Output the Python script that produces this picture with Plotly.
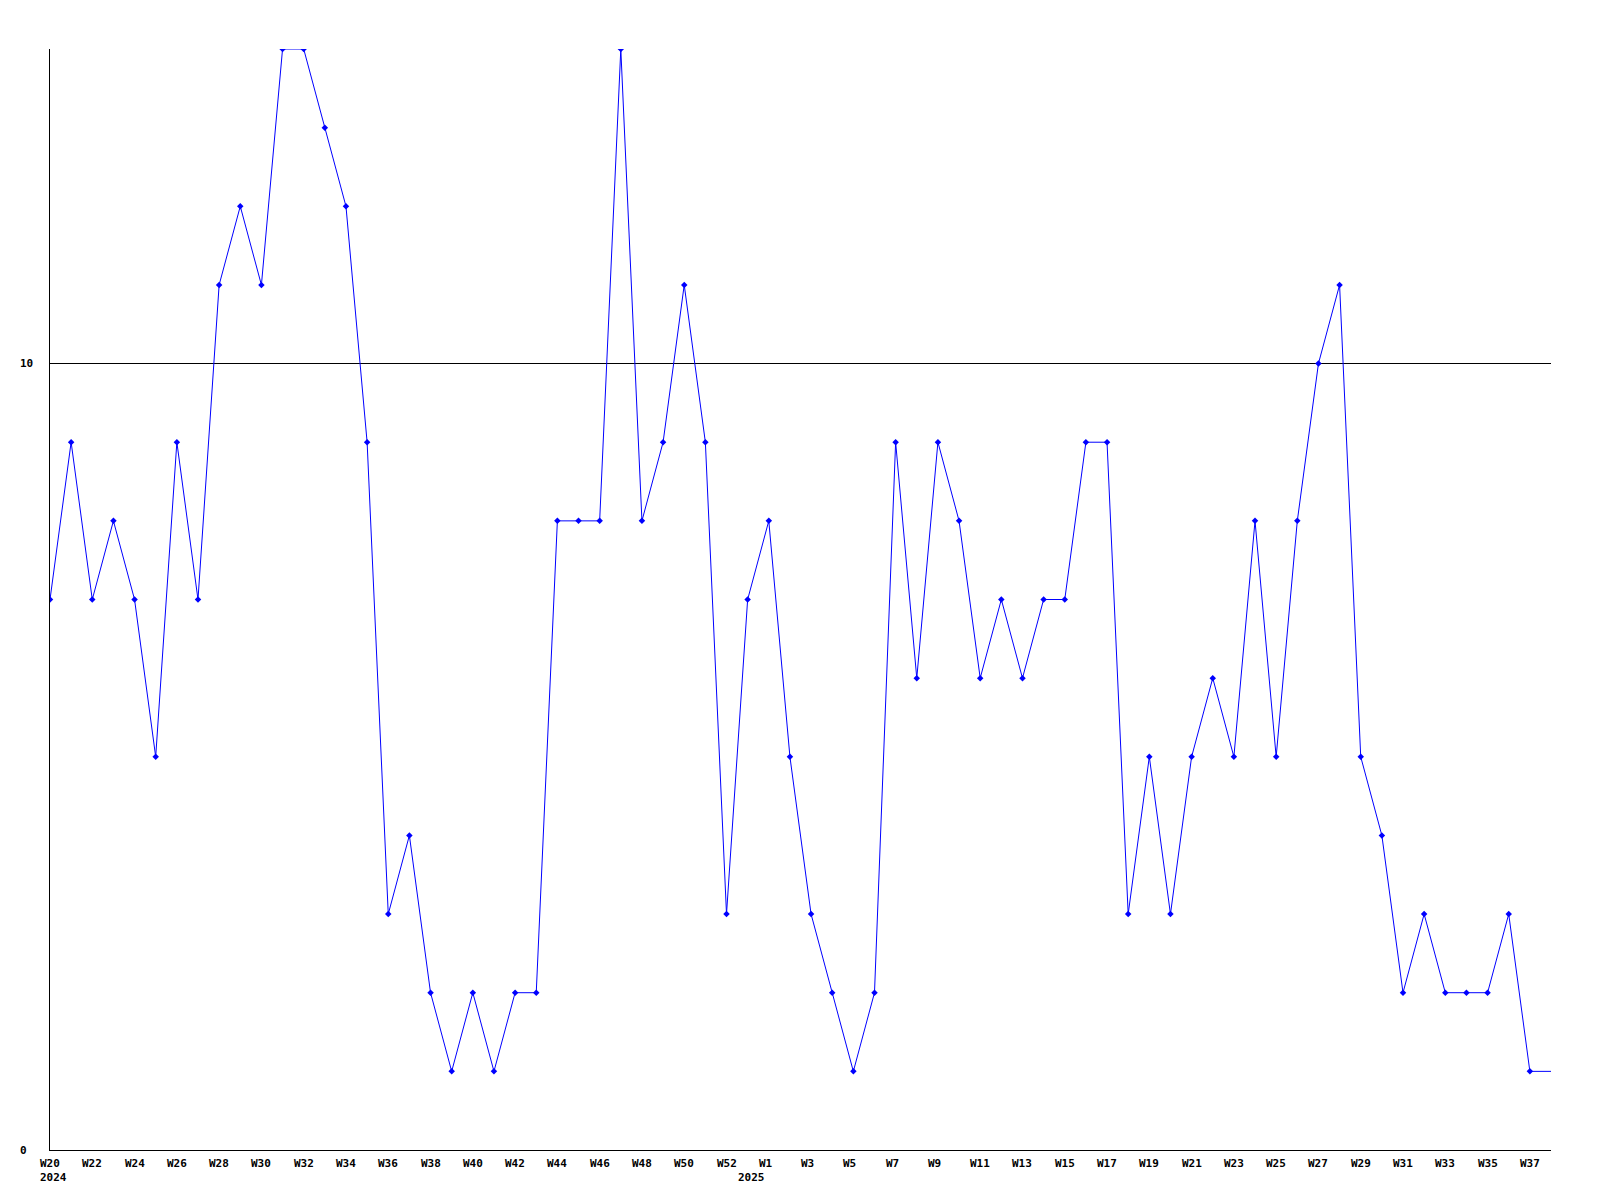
import plotly.graph_objects as go

# ---- data ----
weeks_2024 = [f"W{w}" for w in range(20, 54)]   # W20 .. W53
weeks_2025 = [f"W{w}" for w in range(1, 38)]    # W1 .. W37
values_2024 = [7, 9, 7, 8, 7, 5, 9, 7, 11, 12, 11, 14, 14, 13, 12, 9, 3, 4, 2, 1,
               2, 1, 2, 2, 8, 8, 8, 14, 8, 9, 11, 9, 3, 7]
values_2025 = [8, 5, 3, 2, 1, 2, 9, 6, 9, 8, 6, 7, 6, 7, 7, 9, 9, 3, 5, 3,
               5, 6, 5, 8, 5, 8, 10, 11, 5, 4, 2, 3, 2, 2, 2, 3, 1]
year_labels = ["2024", "2025"]
y_tick_values = [0, 10]

weeks = weeks_2024 + weeks_2025
values = values_2024 + values_2025
x = list(range(len(values)))

FONT = "DejaVu Sans Mono"
BLUE = "#0000FF"

fig = go.Figure()
# tail segment continuing the last value to the right edge
fig.add_trace(go.Scatter(x=[x[-1], x[-1] + 1], y=[values[-1], values[-1]],
                         mode="lines", line=dict(color=BLUE, width=1),
                         hoverinfo="skip", showlegend=False))
fig.add_trace(go.Scatter(x=x, y=values, mode="lines+markers",
                         line=dict(color=BLUE, width=1),
                         marker=dict(symbol="diamond", size=5, color=BLUE),
                         showlegend=False))

annotations = []
# week labels (every other point), left-anchored slightly before the point
for i, w in enumerate(weeks):
    if i % 2 == 0:
        annotations.append(dict(x=i, y=0, xref="x", yref="paper",
                                text=f"<b>{w}</b>", showarrow=False,
                                xanchor="left", yanchor="middle",
                                xshift=-12, yshift=-13,
                                font=dict(family=FONT, size=11, color="black")))
# year labels
year_pos = [0, len(weeks_2024) - 1]
for pos, yl in zip(year_pos, year_labels):
    annotations.append(dict(x=pos, y=0, xref="x", yref="paper",
                            text=f"<b>{yl}</b>", showarrow=False,
                            xanchor="left", yanchor="middle",
                            xshift=-12, yshift=-27,
                            font=dict(family=FONT, size=11, color="black")))
# y labels
for v in y_tick_values:
    annotations.append(dict(x=-0.0215, y=v, xref="paper", yref="y",
                            text=f"<b>{v}</b>", showarrow=False,
                            xanchor="left", yanchor="middle",
                            font=dict(family=FONT, size=11, color="black")))

fig.update_layout(
    width=1600, height=1200,
    margin=dict(l=42, r=57, t=41, b=58),
    plot_bgcolor="white", paper_bgcolor="white",
    showlegend=False,
    annotations=annotations,
    xaxis=dict(range=[0, len(values)], showgrid=False, zeroline=False,
               showticklabels=False, ticks="", showline=True,
               linecolor="black", linewidth=1, mirror=False),
    yaxis=dict(range=[0, 14], tickvals=y_tick_values, showticklabels=False,
               showgrid=True, gridcolor="black", gridwidth=1, zeroline=False,
               ticks="", showline=True, linecolor="black", linewidth=1),
)

fig.write_html("out.html")
